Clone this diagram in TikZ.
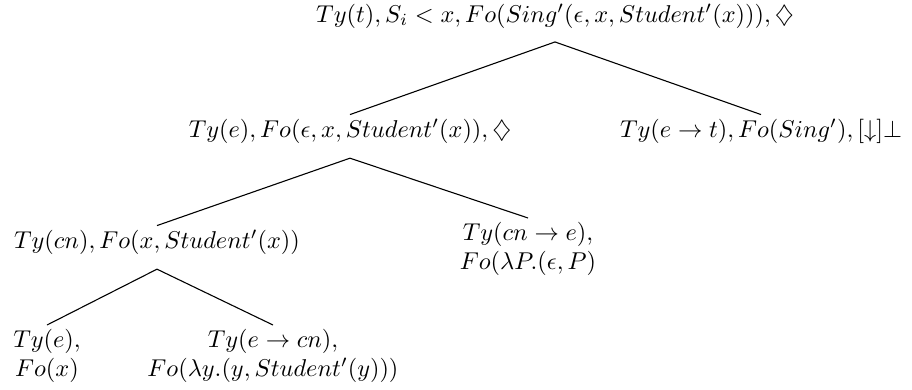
\documentclass[tikz,border=0pt]{standalone}
\usepackage{amsmath,amssymb}
\usetikzlibrary{positioning}
\tikzset{
    treenode/.style={
        inner sep=1.5pt,
        align=center
    },
    parentnode/.style={
        treenode,
        text depth=7pt
    },
    edge/.style={
        line width=0.45pt
    }
}

\begin{document}
\begin{tikzpicture}[x=0.411pt,y=-0.411pt]

    \useasboundingbox (0,0) rectangle (912,390);

    % Racine
    \node[parentnode,anchor=base,text depth=6.5pt] (root) at (555,22)
        {$Ty(t), S_i < x, Fo(Sing'(\epsilon, x, Student'(x))), \diamondsuit$};

    % Niveau 2
    \node[parentnode,anchor=base] (ee) at (350,137)
        {$Ty(e), Fo(\epsilon, x, Student'(x)), \diamondsuit$};
    \node[treenode,anchor=base] (et) at (761,137)
        {$Ty(e \rightarrow t), Fo(Sing'), [\downarrow]\bot$};

    % Niveau 3
    \node[parentnode,anchor=base] (cn) at (157,248)
        {$Ty(cn), Fo(x, Student'(x))$};
    \node[treenode,anchor=north] (cne) at (528,218)
        {$Ty(cn \rightarrow e),$\\$Fo(\lambda P.(\epsilon, P)$};

    % Niveau 4
    \node[treenode,anchor=north] (e) at (47,325)
        {$Ty(e),$\\$Fo(x)$};
    \node[treenode,anchor=north] (ecn) at (273,325)
        {$Ty(e \rightarrow cn),$\\$Fo(\lambda y.(y, Student'(y)))$};

    % Aretes
    \draw[edge] (root.south) -- (ee.north);
    \draw[edge] (root.south) -- (et.north);
    \draw[edge] (ee.south) -- (cn.north);
    \draw[edge] (ee.south) -- (cne.north);
    \draw[edge] (cn.south) -- (e.north);
    \draw[edge] (cn.south) -- (ecn.north);

\end{tikzpicture}
\end{document}
